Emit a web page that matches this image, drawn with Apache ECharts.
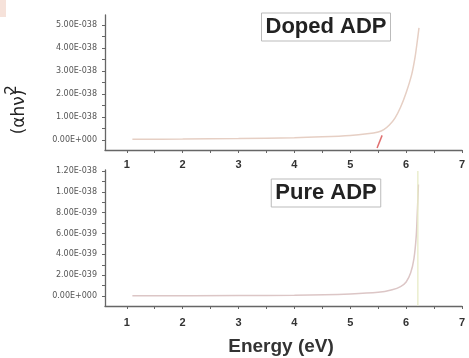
<!DOCTYPE html>
<html>
<head>
<meta charset="utf-8">
<script src="https://cdn.jsdelivr.net/npm/echarts@6/dist/echarts.min.js"></script>
<style>
html,body{margin:0;padding:0;background:#fff;}
#chart{width:469px;height:358px;}
</style>
</head>
<body>
<div id="chart"></div>
<script>
// Energy (eV) / (alpha h nu)^2 data
var dopedEnergy = [1.1, 2.0, 3.0, 4.0, 4.5, 5.0, 5.3, 5.5, 5.6, 5.7, 5.8, 5.9, 6.0, 6.1, 6.16, 6.2, 6.23];
var dopedValue  = [0.03e-38, 0.04e-38, 0.06e-38, 0.10e-38, 0.14e-38, 0.20e-38, 0.27e-38, 0.35e-38, 0.45e-38, 0.65e-38, 0.95e-38, 1.42e-38, 2.05e-38, 2.85e-38, 3.6e-38, 4.3e-38, 4.87e-38];
var pureEnergy  = [1.1, 3.0, 4.0, 5.0, 5.5, 5.75, 5.9, 6.0, 6.08, 6.14, 6.18, 6.2, 6.22];
var pureValue   = [0.02e-39, 0.05e-39, 0.08e-39, 0.20e-39, 0.35e-39, 0.60e-39, 0.90e-39, 1.35e-39, 2.2e-39, 3.6e-39, 5.7e-39, 8.0e-39, 10.7e-39];
// band-gap extrapolation lines
var dopedFitEnergy = [5.48, 5.57];
var dopedFitValue  = [-0.35e-38, 0.2e-38];
var pureFitEnergy  = [6.21, 6.21];
var pureFitValue   = [-0.9e-39, 12.0e-39];
// tick labels
var xTickLabels = [1, 2, 3, 4, 5, 6, 7];
var xTickMarks = [1, 1.5, 2, 2.5, 3, 3.5, 4, 4.5, 5, 5.5, 6, 6.5, 7];
var dopedYLabels = [0, 1e-38, 2e-38, 3e-38, 4e-38, 5e-38];
var dopedYTicks = [0, 0.5e-38, 1e-38, 1.5e-38, 2e-38, 2.5e-38, 3e-38, 3.5e-38, 4e-38, 4.5e-38, 5e-38];
var pureYLabels = [0, 2e-39, 4e-39, 6e-39, 8e-39, 10e-39, 12e-39];
var pureYTicks = [0, 1e-39, 2e-39, 3e-39, 4e-39, 5e-39, 6e-39, 7e-39, 8e-39, 9e-39, 10e-39, 11e-39, 12e-39];

function zip(a, b) { return a.map(function (v, i) { return [v, b[i]]; }); }
function sci(v) {
  if (Math.abs(v) < 1e-60) return '0.00E+000';
  var e = Math.floor(Math.log10(Math.abs(v)) + 1e-9);
  var m = v / Math.pow(10, e);
  var ms = m.toFixed(2);
  if (parseFloat(ms) >= 10) { e += 1; ms = (v / Math.pow(10, e)).toFixed(2); }
  var es = String(Math.abs(e));
  while (es.length < 3) es = '0' + es;
  return ms + 'E' + (e < 0 ? '-' : '+') + es;
}

var axisLineStyle = { color: '#666', width: 1.3 };
function xAxis(gi) {
  return {
    type: 'value', gridIndex: gi, min: 0.61, max: 7.0,
    axisLine: { show: true, onZero: false, lineStyle: axisLineStyle },
    axisTick: { show: true, customValues: xTickMarks, length: 3, lineStyle: { color: '#666' } },
    axisLabel: { customValues: xTickLabels, margin: gi === 0 ? 9 : 11, fontSize: 11, fontWeight: 'bold',
      color: '#333', fontFamily: 'Liberation Sans' },
    splitLine: { show: false }
  };
}
function yAxis(gi, min, max, labels, ticks) {
  return {
    type: 'value', gridIndex: gi, min: min, max: max,
    axisLine: { show: true, onZero: false, lineStyle: axisLineStyle },
    axisTick: { show: true, customValues: ticks, length: 3, lineStyle: { color: '#666' } },
    axisLabel: { customValues: labels, formatter: sci, margin: 8, fontSize: 8,
      color: '#555', fontFamily: 'DejaVu Sans' },
    splitLine: { show: false }
  };
}

var chart = echarts.init(document.getElementById('chart'), null, { renderer: 'canvas' });
chart.setOption({
  backgroundColor: '#ffffff',
  animation: false,
  grid: [
    { left: 105, right: 7, top: 15, height: 135 },
    { left: 105, right: 7, top: 170, height: 136 }
  ],
  xAxis: [xAxis(0), xAxis(1)],
  yAxis: [
    yAxis(0, -0.435e-38, 5.43e-38, dopedYLabels, dopedYTicks),
    yAxis(1, -0.96e-39, 12.1e-39, pureYLabels, pureYTicks)
  ],
  series: [
    { type: 'line', xAxisIndex: 0, yAxisIndex: 0, data: zip(dopedEnergy, dopedValue), smooth: 0.3,
      showSymbol: false, lineStyle: { color: '#e6cfc4', width: 1.5 } },
    { type: 'line', xAxisIndex: 0, yAxisIndex: 0, data: zip(dopedFitEnergy, dopedFitValue),
      showSymbol: false, lineStyle: { color: '#e07070', width: 1.5 } },
    { type: 'line', xAxisIndex: 1, yAxisIndex: 1, data: zip(pureEnergy, pureValue), smooth: 0.3,
      showSymbol: false, lineStyle: { color: '#dcc6c6', width: 1.5 } },
    { type: 'line', xAxisIndex: 1, yAxisIndex: 1, data: zip(pureFitEnergy, pureFitValue),
      showSymbol: false, lineStyle: { color: '#e7ebc6', width: 1.3 } }
  ],
  graphic: [
    { type: 'rect', shape: { x: 0, y: 0, width: 6, height: 17 }, style: { fill: '#f6e2da' } },
    { type: 'text', x: 326, y: 27, style: { text: 'Doped ADP', font: 'bold 22px "Liberation Sans"', fill: '#222',
      align: 'center', verticalAlign: 'middle', padding: [3, 4, 3, 4], borderColor: '#bbb', borderWidth: 1,
      borderType: 'dotted' } },
    { type: 'text', x: 326, y: 193, style: { text: 'Pure ADP', font: 'bold 22px "Liberation Sans"', fill: '#222',
      align: 'center', verticalAlign: 'middle', padding: [3, 4, 3, 4], borderColor: '#bbb', borderWidth: 1,
      borderType: 'dotted' } },
    { type: 'text', x: 281, y: 347, style: { text: 'Energy (eV)', font: 'bold 19px "Liberation Sans"', fill: '#333',
      align: 'center', verticalAlign: 'middle' } },
    { type: 'text', x: 20, y: 112, rotation: Math.PI / 2, style: { text: '(\u03b1h\u03bd)', font: '17px "DejaVu Sans"',
      fill: '#222', align: 'center', verticalAlign: 'middle' } },
    { type: 'text', x: 12, y: 90, rotation: Math.PI / 2, style: { text: '2', font: '15px "DejaVu Sans"',
      fill: '#222', align: 'center', verticalAlign: 'middle' } }
  ]
});
</script>
</body>
</html>
